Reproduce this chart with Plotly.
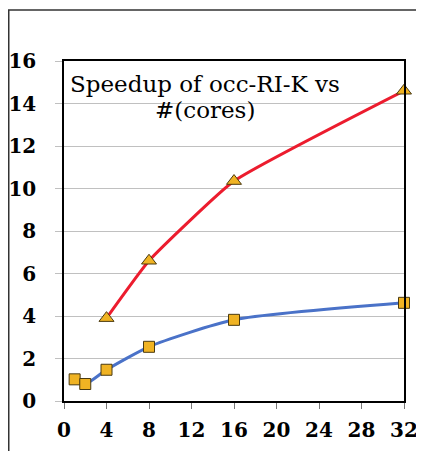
import plotly.graph_objects as go

cores_red = [4, 8, 16, 32]
speedup_red = [3.9, 6.6, 10.35, 14.6]
cores_blue = [1, 2, 4, 8, 16, 32]
speedup_blue = [1.02, 0.8, 1.47, 2.55, 3.82, 4.62]
x_ticks = [0, 4, 8, 12, 16, 20, 24, 28, 32]
y_ticks = [0, 2, 4, 6, 8, 10, 12, 14, 16]
title_lines = ["Speedup of occ-RI-K vs", "#(cores)"]

# page body has an 8px default margin; figure is sized to fit the window
OFF = 8
W, H = 424 - OFF, 451 - OFF
L, T = 64 - OFF, 61 - OFF
R = W - (404 - OFF)
B = H - (401 - OFF)
pw, ph = W - L - R, H - T - B

marker_fill = "#f0b323"
marker_line = "#4a3a10"

fig = go.Figure()
fig.add_trace(go.Scatter(
    x=cores_blue, y=speedup_blue, mode="lines+markers",
    line=dict(color="#4a72c8", width=3, shape="spline", smoothing=0.6),
    marker=dict(symbol="square", size=11, color=marker_fill,
                line=dict(color=marker_line, width=1)),
    showlegend=False, cliponaxis=False))
fig.add_trace(go.Scatter(
    x=cores_red, y=speedup_red, mode="lines+markers",
    line=dict(color="#ec1c2e", width=3, shape="spline", smoothing=0.4),
    marker=dict(symbol="triangle-up", size=13, color=marker_fill,
                line=dict(color=marker_line, width=1)),
    showlegend=False, cliponaxis=False))

tick_font = dict(family="DejaVu Serif", size=20, color="black", weight="bold")


def px_to_paper_x(px):
    return (px - 64) / pw


def px_to_paper_y(py):
    return 1 - (py - 61) / ph


title_centers_y = [84, 110]
annotations = [dict(
    x=px_to_paper_x(205), y=px_to_paper_y(cy), xref="paper", yref="paper",
    xanchor="center", yanchor="middle", showarrow=False, text=line,
    font=dict(family="DejaVu Serif", size=23, color="black"))
    for line, cy in zip(title_lines, title_centers_y)]

fig.update_layout(
    width=W, height=H,
    margin=dict(l=L, r=R, t=T, b=B, pad=0, autoexpand=False),
    paper_bgcolor="white", plot_bgcolor="white",
    xaxis=dict(range=[0, 32], tickvals=x_ticks, ticktext=[str(v) for v in x_ticks],
               showgrid=False, zeroline=False, showline=True, linecolor="black",
               linewidth=1.5, mirror=True, ticks="outside", ticklen=6,
               tickcolor="#777777", tickwidth=1, automargin=False,
               ticklabelstandoff=4, tickfont=tick_font),
    yaxis=dict(range=[0, 16], tickvals=y_ticks, ticktext=[str(v) for v in y_ticks],
               showgrid=True, gridcolor="#c0c0c0", gridwidth=1, zeroline=False,
               showline=True, linecolor="black", linewidth=1.5, mirror=True,
               ticks="outside", ticklen=7, tickcolor="#c0c0c0", tickwidth=1,
               automargin=False, ticklabelstandoff=15, tickfont=tick_font),
    annotations=annotations,
    shapes=[dict(type="rect", xref="paper", yref="paper",
                 x0=(0.75 - L) / pw, x1=(W + 20 - L) / pw,
                 y0=-(H + 20 - T - ph) / ph, y1=1 + (T - 2) / ph,
                 line=dict(color="#333333", width=1.5), layer="below")],
)

fig.write_html("out.html")
